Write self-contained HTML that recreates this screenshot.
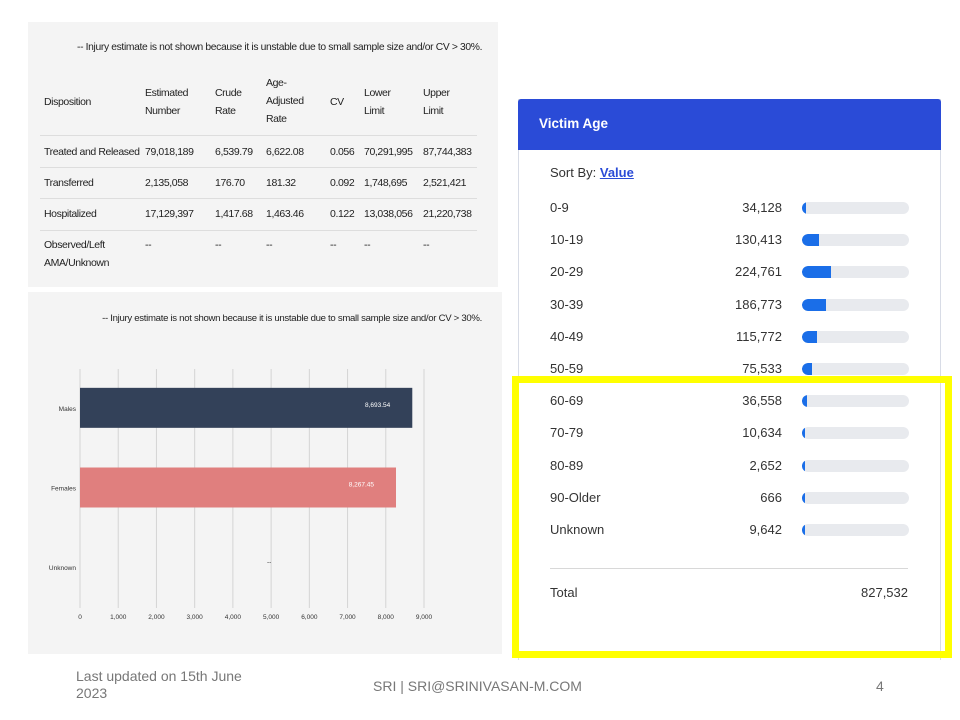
<!DOCTYPE html>
<html><head><meta charset="utf-8">
<style>
body{margin:0;width:960px;height:720px;background:#fff;position:relative;overflow:hidden;font-family:"Liberation Sans",sans-serif;}
.abs{position:absolute;}
#tbl{left:28px;top:22px;width:470px;height:265px;background:#f4f4f4;}
.t{position:absolute;font-size:10.5px;color:#222;letter-spacing:-0.4px;line-height:18px;white-space:nowrap;}
.hl{position:absolute;left:12px;width:437px;height:1px;background:#ddd;}
#chartp{left:28px;top:292px;width:474px;height:362px;background:#f4f4f4;}
#va{left:518px;top:99px;width:421px;height:560px;border:1px solid #d8dce6;border-bottom:none;background:#fff;}
.vr{position:absolute;font-size:13px;color:#333;}
</style></head><body>
<div id="tbl" class="abs">
 <div class="t" style="left:49px;top:17px;font-size:10.3px;letter-spacing:-0.35px">-- Injury estimate is not shown because it is unstable due to small sample size and/or CV &gt; 30%.</div>
 <div class="t" style="left:16px;top:71px">Disposition</div>
 <div class="t" style="left:117px;top:62px">Estimated<br>Number</div>
 <div class="t" style="left:187px;top:62px">Crude<br>Rate</div>
 <div class="t" style="left:238px;top:52px">Age-<br>Adjusted<br>Rate</div>
 <div class="t" style="left:302px;top:71px">CV</div>
 <div class="t" style="left:336px;top:62px">Lower<br>Limit</div>
 <div class="t" style="left:395px;top:62px">Upper<br>Limit</div>
 <div class="hl" style="top:113px"></div><div class="hl" style="top:145px"></div><div class="hl" style="top:176px"></div><div class="hl" style="top:208px"></div>
 <div class="t" style="left:16px;top:121px">Treated and Released</div><div class="t" style="left:117px;top:121px">79,018,189</div><div class="t" style="left:187px;top:121px">6,539.79</div><div class="t" style="left:238px;top:121px">6,622.08</div><div class="t" style="left:302px;top:121px">0.056</div><div class="t" style="left:336px;top:121px">70,291,995</div><div class="t" style="left:395px;top:121px">87,744,383</div>
 <div class="t" style="left:16px;top:152px">Transferred</div><div class="t" style="left:117px;top:152px">2,135,058</div><div class="t" style="left:187px;top:152px">176.70</div><div class="t" style="left:238px;top:152px">181.32</div><div class="t" style="left:302px;top:152px">0.092</div><div class="t" style="left:336px;top:152px">1,748,695</div><div class="t" style="left:395px;top:152px">2,521,421</div>
 <div class="t" style="left:16px;top:183px">Hospitalized</div><div class="t" style="left:117px;top:183px">17,129,397</div><div class="t" style="left:187px;top:183px">1,417.68</div><div class="t" style="left:238px;top:183px">1,463.46</div><div class="t" style="left:302px;top:183px">0.122</div><div class="t" style="left:336px;top:183px">13,038,056</div><div class="t" style="left:395px;top:183px">21,220,738</div>
 <div class="t" style="left:16px;top:214px">Observed/Left<br>AMA/Unknown</div><div class="t" style="left:117px;top:214px">--</div><div class="t" style="left:187px;top:214px">--</div><div class="t" style="left:238px;top:214px">--</div><div class="t" style="left:302px;top:214px">--</div><div class="t" style="left:336px;top:214px">--</div><div class="t" style="left:395px;top:214px">--</div>
</div>

<div id="chartp" class="abs">
<svg width="474" height="362" id="sv">
<text x="454" y="29" font-size="9.6" text-anchor="end" fill="#222" font-family="Liberation Sans" letter-spacing="-0.3">-- Injury estimate is not shown because it is unstable due to small sample size and/or CV &gt; 30%.</text>
</svg></div>

<div id="va" class="abs">
 <div class="abs" style="left:-1px;top:-1px;width:423px;height:51px;background:#2a4bd7;border-radius:3px 3px 0 0">
  <div class="abs" style="left:21px;top:17px;color:#fff;font-weight:bold;font-size:13.5px">Victim Age</div></div>
 <div class="vr" style="left:31px;top:65px">Sort By: <span style="color:#2a4bd7;font-weight:bold;text-decoration:underline">Value</span></div>
 <div id="rows"></div>
 <div class="abs" style="left:31px;top:468px;width:358px;height:1px;background:#d8d8d8"></div>
 <div class="vr" style="left:31px;top:485px">Total</div>
 <div class="vr" style="left:289px;width:100px;text-align:right;top:485px">827,532</div>
</div>
<div class="abs" style="left:512px;top:376px;width:426px;height:268px;border:7px solid #ffff00"></div>

<div class="abs" style="left:76px;top:668px;font-size:14px;color:#777;line-height:17px">Last updated on 15th June<br>2023</div>
<div class="abs" style="left:373px;top:678px;font-size:14px;color:#777">SRI | SRI@SRINIVASAN-M.COM</div>
<div class="abs" style="left:876px;top:678px;font-size:14px;color:#777">4</div>

<script>
const sexCats=["Males","Females","Unknown"];
const sexVals=[8693.54,8267.45,null];
const sexLabels=["8,693.54","8,267.45","--"];
const xTicks=[0,1000,2000,3000,4000,5000,6000,7000,8000,9000];
const xTickLabels=["0","1,000","2,000","3,000","4,000","5,000","6,000","7,000","8,000","9,000"];
const barColors=["#334159","#e07f7e"];

const ageCats=["0-9","10-19","20-29","30-39","40-49","50-59","60-69","70-79","80-89","90-Older","Unknown"];
const ageVals=[34128,130413,224761,186773,115772,75533,36558,10634,2652,666,9642];
const ageTotal=827532;

const NS="http://www.w3.org/2000/svg";
const sv=document.getElementById('sv');
const x=v=>52+v*(344/9000);
const yTop=77,yBot=316,band=(yBot-yTop)/3;
const yc=i=>yTop+band*(i+0.5)-1;
function mk(t,a){const e=document.createElementNS(NS,t);for(const k in a)e.setAttribute(k,a[k]);sv.appendChild(e);return e;}
xTicks.forEach((t,i)=>{
 const l=mk('line',{x1:x(t),x2:x(t),y1:yTop,y2:yBot,stroke:'#d4d4d4','stroke-width':1});
 
 
 const tx=mk('text',{x:x(t),y:327,'font-size':6.5,'text-anchor':'middle',fill:'#333','font-family':'Liberation Sans'});
 tx.textContent=xTickLabels[i];
 
 
});
sexCats.forEach((c,i)=>{
 const tx=mk('text',{x:48,y:yc(i)+3,'font-size':6.5,'text-anchor':'end',fill:'#333','font-family':'Liberation Sans'});
 tx.textContent=c;
 
 
 if(sexVals[i]!=null){
  const r=mk('rect',{x:x(0),y:yc(i)-20,width:x(sexVals[i])-x(0),height:40,fill:barColors[i]});
  
  
  const v=mk('text',{x:x(sexVals[i])-22,y:yc(i)-1,'font-size':6.5,'text-anchor':'end',fill:'#fff','font-family':'Liberation Sans'});
  v.textContent=sexLabels[i];
  
  
 } else {
  const v=mk('text',{x:x(5000)-2,y:yc(i)-3,'font-size':6.5,'text-anchor':'middle',fill:'#333'});
  v.textContent=sexLabels[i];
  
  
 }
});

const rows=document.getElementById('rows');
ageCats.forEach((c,i)=>{
 const top=100+i*32.2;
 const lab=document.createElement('div');lab.className='vr';lab.style.cssText=`left:31px;top:${top}px`;lab.textContent=c;
 
 
 rows.appendChild(lab);
 const val=document.createElement('div');val.className='vr';val.style.cssText=`left:163px;width:100px;text-align:right;top:${top}px`;val.textContent=ageVals[i].toLocaleString('en-US');
 
 
 rows.appendChild(val);
 const tr=document.createElement('div');tr.className='abs';tr.style.cssText=`left:283px;top:${top+2}px;width:107px;height:12px;border-radius:6px;background:#e8eaee;overflow:hidden`;
 
 
 const f=document.createElement('div');f.className='abs';
 const w=Math.max(3,107*ageVals[i]/ageTotal);
 f.style.cssText=`left:0;top:0;height:12px;width:${w}px;background:#1a6ee8;border-radius:6px 0 0 6px`;
 
 
 tr.appendChild(f);rows.appendChild(tr);
});
</script>
</body></html>
